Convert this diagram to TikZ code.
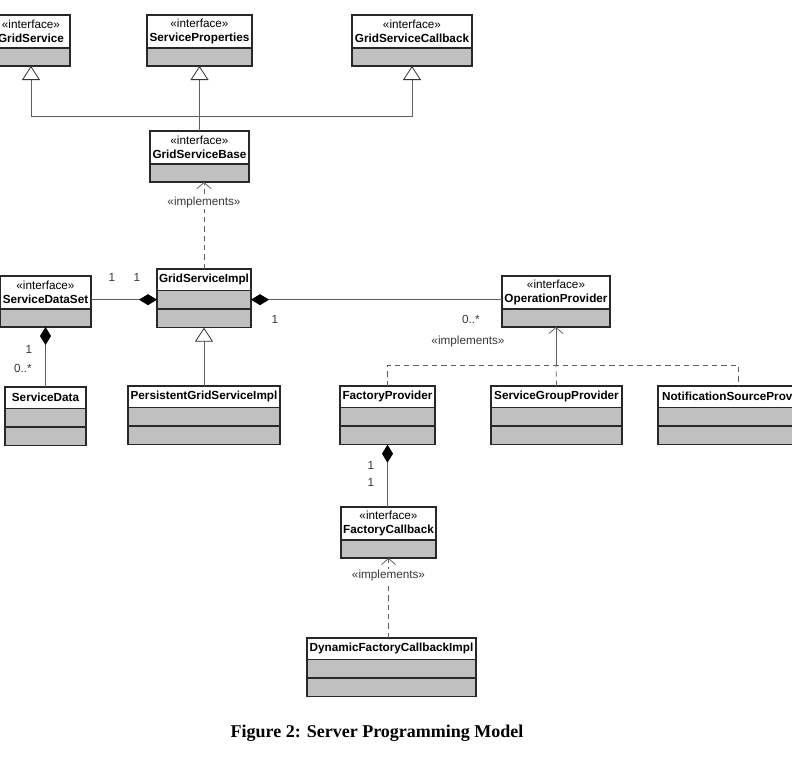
\documentclass[tikz,border=0pt]{standalone}
\usepackage{fontspec}
\setmainfont{Liberation Sans}
\newfontfamily\capfont{Liberation Serif}
\usetikzlibrary{positioning,arrows.meta}

\definecolor{boxfill}{RGB}{192,192,192}
\definecolor{boxline}{RGB}{40,40,40}
\definecolor{linkline}{RGB}{95,95,95}
\definecolor{lbltext}{RGB}{55,55,55}

\tikzset{
  ihead/.style={draw=boxline, fill=white, line width=0.8pt, outer sep=0pt, inner sep=0pt,
    minimum height=24.75pt, align=center, font=\fontsize{8.8}{10.2}\selectfont},
  chead/.style={draw=boxline, fill=white, line width=0.8pt, outer sep=0pt, inner sep=0pt,
    minimum height=16pt, font=\fontsize{8.8}{10.2}\selectfont\bfseries},
  icomp/.style={draw=boxline, fill=boxfill, line width=0.8pt, outer sep=0pt, inner sep=0pt,
    minimum height=13.5pt},
  ccomp/.style={draw=boxline, fill=boxfill, line width=0.8pt, outer sep=0pt, inner sep=0pt,
    minimum height=14pt},
  gen/.style={draw=linkline, line width=0.6pt,
    -{Triangle[open,length=10.5pt,width=13.5pt,fill=white,color=black!80]}},
  compo/.style={draw=linkline, line width=0.6pt,
    -{Diamond[length=13.5pt,width=8.25pt,color=black]}},
  real/.style={draw=linkline, line width=0.6pt, dash pattern=on 4pt off 3pt,
    -{Straight Barb[length=4.5pt,width=10.5pt]}},
  lbl/.style={font=\fontsize{8.8}{10.2}\selectfont, text=lbltext, inner sep=1pt},
}

\begin{document}
\begin{tikzpicture}[x=0.75pt,y=0.75pt,yscale=-1,xscale=1]
\useasboundingbox (0,0) rectangle (792,761);

% Class: GridService
\node[ihead, minimum width=58.5pt, anchor=north west] (gsrv) at (-8,15) {«interface»\\\textbf{GridService}};
\node[icomp, minimum width=58.5pt, below=0pt of gsrv] (gsrv-c1) {};
% Class: ServiceProperties
\node[ihead, minimum width=78.75pt, anchor=north west] (sprop) at (147,15) {«interface»\\\textbf{ServiceProperties}};
\node[icomp, minimum width=78.75pt, below=0pt of sprop] (sprop-c1) {};
% Class: GridServiceCallback
\node[ihead, minimum width=90pt, anchor=north west] (gscb) at (352,15) {«interface»\\\textbf{GridServiceCallback}};
\node[icomp, minimum width=90pt, below=0pt of gscb] (gscb-c1) {};

% Class: GridServiceBase
\node[ihead, minimum width=74.25pt, anchor=north west] (gsbase) at (150,131) {«interface»\\\textbf{GridServiceBase}};
\node[icomp, minimum width=74.25pt, below=0pt of gsbase] (gsbase-c1) {};

% Class: GridServiceImpl
\node[chead, minimum width=70.5pt, anchor=north west] (gsimpl) at (157,269) {GridServiceImpl};
\node[ccomp, minimum width=70.5pt, below=0pt of gsimpl] (gsimpl-c1) {};
\node[ccomp, minimum width=70.5pt, below=0pt of gsimpl-c1] (gsimpl-c2) {};

% Class: ServiceDataSet
\node[ihead, minimum width=68.25pt, anchor=north west] (sdset) at (0,276) {«interface»\\\textbf{ServiceDataSet}};
\node[icomp, minimum width=68.25pt, below=0pt of sdset] (sdset-c1) {};

% Class: OperationProvider
\node[ihead, minimum width=81pt, anchor=north west] (opprov) at (502,276) {«interface»\\\textbf{OperationProvider}};
\node[icomp, minimum width=81pt, below=0pt of opprov] (opprov-c1) {};

% Class: ServiceData
\node[chead, minimum width=60.75pt, anchor=north west] (sdata) at (5,387) {ServiceData};
\node[ccomp, minimum width=60.75pt, below=0pt of sdata] (sdata-c1) {};
\node[ccomp, minimum width=60.75pt, below=0pt of sdata-c1] (sdata-c2) {};

% Class: PersistentGridServiceImpl
\node[chead, minimum width=114pt, anchor=north west] (pgsi) at (128,386) {PersistentGridServiceImpl};
\node[ccomp, minimum width=114pt, below=0pt of pgsi] (pgsi-c1) {};
\node[ccomp, minimum width=114pt, below=0pt of pgsi-c1] (pgsi-c2) {};

% Class: FactoryProvider
\node[chead, minimum width=71.25pt, anchor=north west] (fprov) at (340,386) {FactoryProvider};
\node[ccomp, minimum width=71.25pt, below=0pt of fprov] (fprov-c1) {};
\node[ccomp, minimum width=71.25pt, below=0pt of fprov-c1] (fprov-c2) {};

% Class: ServiceGroupProvider
\node[chead, minimum width=98.25pt, anchor=north west] (sgprov) at (491,386) {ServiceGroupProvider};
\node[ccomp, minimum width=98.25pt, below=0pt of sgprov] (sgprov-c1) {};
\node[ccomp, minimum width=98.25pt, below=0pt of sgprov-c1] (sgprov-c2) {};

% Class: NotificationSourceProvider
\node[chead, minimum width=120pt, anchor=north west] (nsprov) at (658,386) {NotificationSourceProvider};
\node[ccomp, minimum width=120pt, below=0pt of nsprov] (nsprov-c1) {};
\node[ccomp, minimum width=120pt, below=0pt of nsprov-c1] (nsprov-c2) {};

% Class: FactoryCallback
\node[ihead, minimum width=71.25pt, anchor=north west] (fcb) at (341,507) {«interface»\\\textbf{FactoryCallback}};
\node[icomp, minimum width=71.25pt, below=0pt of fcb] (fcb-c1) {};

% Class: DynamicFactoryCallbackImpl
\node[chead, minimum width=126.75pt, anchor=north west] (dfci) at (307,638) {DynamicFactoryCallbackImpl};
\node[ccomp, minimum width=126.75pt, below=0pt of dfci] (dfci-c1) {};
\node[ccomp, minimum width=126.75pt, below=0pt of dfci-c1] (dfci-c2) {};

% Generalization tree
\coordinate (gjoin) at (gsbase.north |- 0,116);
\draw[gen] (gsbase.north) -- (sprop-c1.south);
\draw[gen] (gjoin) -| (gsrv-c1.south);
\draw[gen] (gjoin) -| (gscb-c1.south);
\draw[gen] (pgsi.north) -- (gsimpl-c2.south);

% Realizations
\draw[real] (gsimpl.north) -- node[lbl, fill=white, pos=0.77] {«implements»} (gsimpl.north |- gsbase-c1.south);
\draw[real] (fcb-c1.south |- dfci.north) -- node[lbl, fill=white, pos=0.78] {«implements»} (fcb-c1.south);
\coordinate (rjoin) at (opprov-c1.south |- 0,365);
\draw[real, -] (fprov.north) |- (nsprov.north |- rjoin) -- (nsprov.north);
\draw[real, -] (sgprov.north) -- (rjoin);
\draw[real, solid] (rjoin) -- (opprov-c1.south);
\node[lbl] (implop) at (468,341) {«implements»};

% Compositions
\draw[compo] (sdset.east |- gsimpl-c1.west) -- (gsimpl-c1.west);
\draw[compo] (opprov.west |- gsimpl-c1.east) -- (gsimpl-c1.east);
\draw[compo] (sdata.north) -- (sdset-c1.south);
\draw[compo] (fprov-c2.south |- fcb.north) -- (fprov-c2.south);

% Multiplicities
\node[lbl] (m1) at (112,277) {1};
\node[lbl] (m2) at (137,277) {1};
\node[lbl] (m3) at (275,319) {1};
\node[lbl] (m4) at (471,319) {0..*};
\node[lbl] (m5) at (29,349) {1};
\node[lbl] (m6) at (23,368) {0..*};
\node[lbl] (m7) at (371,465) {1};
\node[lbl] (m8) at (371,482) {1};

% Caption
\node[font=\capfont\fontsize{13.5}{16}\selectfont\bfseries] (cap) at (377,733) {Figure 2: Server Programming Model};

\end{tikzpicture}
\end{document}
